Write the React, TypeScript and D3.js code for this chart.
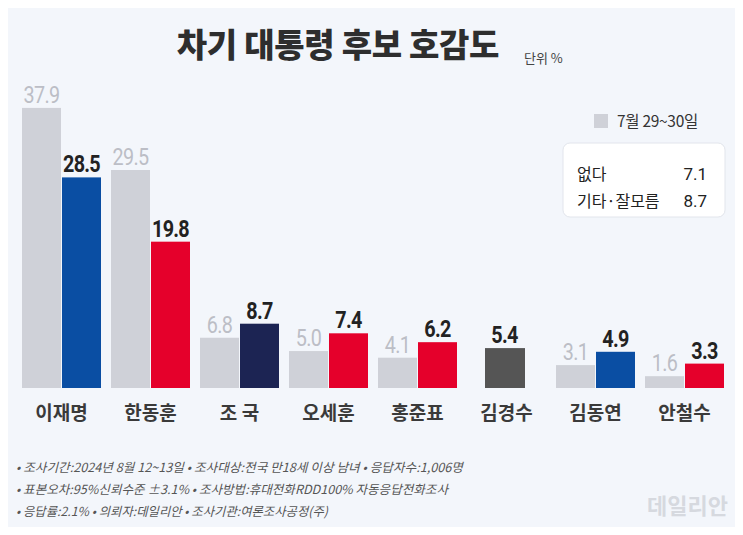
import { useEffect, useRef } from "react";
import * as d3 from "d3";

const candidates = ["이재명", "한동훈", "조 국", "오세훈", "홍준표", "김경수", "김동연", "안철수"];
const prevValues = [37.9, 29.5, 6.8, 5.0, 4.1, null, 3.1, 1.6];
const nowValues = [28.5, 19.8, 8.7, 7.4, 6.2, 5.4, 4.9, 3.3];
const nowColors = ["#0a4ea3", "#e5002b", "#1c2453", "#e5002b", "#e5002b", "#555555", "#0a4ea3", "#e5002b"];
const otherLabels = ["없다", "기타·잘모름"];
const otherValues = [7.1, 8.7];
const footnotes = [
  "• 조사기간:2024년 8월 12~13일  • 조사대상:전국 만18세 이상 남녀  • 응답자수:1,006명",
  "• 표본오차:95%신뢰수준 ±3.1%  • 조사방법:휴대전화RDD100% 자동응답전화조사",
  "• 응답률:2.1%  • 의뢰자:데일리안  • 조사기관:여론조사공정(주)",
];

const KR = "'Noto Sans CJK KR', 'Noto Sans', sans-serif";
const NUM = "Roboto, 'Noto Sans', sans-serif";

function App() {
  const ref = useRef<HTMLDivElement>(null);

  useEffect(() => {
    const container = d3.select(ref.current);
    container.selectAll("*").remove();

    const width = 743;
    const height = 535;
    const baseY = 388;

    const svg = container
      .append("svg")
      .attr("width", width)
      .attr("height", height)
      .style("display", "block");

    svg.append("rect").attr("width", width).attr("height", height).attr("fill", "#f3f6fb");

    const x0 = d3.scaleBand<string>().domain(candidates).range([22, 724]).paddingInner(10 / 89).paddingOuter(0);
    const x1 = d3.scaleBand<string>().domain(["prev", "now"]).range([0, x0.bandwidth()]).paddingInner(1 / 40);
    const y = d3.scaleLinear().domain([0, 40]).range([baseY, baseY - 40 * 7.39]);

    const data = candidates.map((c, i) => ({ c, prev: prevValues[i], now: nowValues[i], color: nowColors[i] }));

    // value label, squeezed horizontally to look like the condensed face
    const valueLabel = (cx: number, cy: number, txt: string, fill: string, weight: string) => {
      svg.append("text")
        .attr("transform", `translate(${cx},${cy}) scale(0.86,1)`)
        .attr("text-anchor", "middle")
        .attr("fill", fill)
        .style("font-family", NUM)
        .style("font-size", "23px")
        .style("font-weight", weight)
        .style("letter-spacing", "-0.8px")
        .text(txt);
    };

    data.forEach((d) => {
      const gx = x0(d.c)!;
      const bw = x1.bandwidth();
      if (d.prev != null) {
        const px = gx + x1("prev")!;
        svg.append("rect")
          .attr("x", px)
          .attr("y", y(d.prev))
          .attr("width", bw)
          .attr("height", y(0) - y(d.prev))
          .attr("fill", "#cfd1d8");
        valueLabel(px + bw / 2, y(d.prev) - 5, d.prev.toFixed(1), "#bcbec6", "400");
      }
      const nx = d.prev != null ? gx + x1("now")! : gx + x0.bandwidth() / 2 - bw / 2 - 2;
      svg.append("rect")
        .attr("x", nx)
        .attr("y", y(d.now))
        .attr("width", bw + (d.prev != null ? 0 : 1))
        .attr("height", y(0) - y(d.now))
        .attr("fill", d.color);
      valueLabel(nx + bw / 2, y(d.now) - 5, d.now.toFixed(1), "#222222", "700");

      svg.append("text")
        .attr("x", gx + x0.bandwidth() / 2)
        .attr("y", 420)
        .attr("text-anchor", "middle")
        .attr("fill", "#3a3a3a")
        .style("font-family", KR)
        .style("font-size", "19px")
        .style("font-weight", "700")
        .text(d.c);
    });

    // title
    svg.append("text")
      .attr("x", 338)
      .attr("y", 57)
      .attr("text-anchor", "middle")
      .attr("fill", "#2e2e2e")
      .style("font-family", KR)
      .style("font-size", "33px")
      .style("font-weight", "900")
      .style("letter-spacing", "-0.3px")
      .text("차기 대통령 후보 호감도");
    svg.append("text")
      .attr("x", 524)
      .attr("y", 63)
      .attr("fill", "#444")
      .style("font-family", KR)
      .style("font-size", "13px")
      .text("단위 %");

    // legend
    svg.append("rect").attr("x", 594).attr("y", 114).attr("width", 14).attr("height", 14).attr("fill", "#cfd1d8");
    svg.append("text")
      .attr("x", 617)
      .attr("y", 127)
      .attr("fill", "#333")
      .style("font-family", KR)
      .style("font-size", "15.5px")
      .style("letter-spacing", "-0.3px")
      .text("7월 29~30일");

    svg.append("rect")
      .attr("x", 563)
      .attr("y", 143)
      .attr("width", 162)
      .attr("height", 74)
      .attr("rx", 7)
      .attr("fill", "#ffffff")
      .attr("stroke", "#e2e5ec");
    otherLabels.forEach((lab, i) => {
      const ty = 180 + i * 27;
      svg.append("text")
        .attr("x", 577)
        .attr("y", ty)
        .attr("fill", "#222")
        .style("font-family", KR)
        .style("font-size", "16px")
        .text(lab);
      svg.append("text")
        .attr("x", 707)
        .attr("y", ty)
        .attr("text-anchor", "end")
        .attr("fill", "#222")
        .style("font-family", NUM)
        .style("font-size", "17px")
        .text(otherValues[i].toFixed(1));
    });

    // footnotes
    const fw = [447, 432, 312];
    footnotes.forEach((t, i) => {
      svg.append("text")
        .attr("x", 16)
        .attr("y", 472 + i * 22)
        .attr("fill", "#555")
        .attr("textLength", fw[i])
        .attr("lengthAdjust", "spacingAndGlyphs")
        .style("font-family", KR)
        .style("font-size", "12.5px")
        .style("font-style", "italic")
        .text(t);
    });

    svg.append("text")
      .attr("x", 728)
      .attr("y", 514)
      .attr("text-anchor", "end")
      .attr("fill", "#d6d9df")
      .style("font-family", KR)
      .style("font-size", "22px")
      .style("font-weight", "700")
      .text("데일리안");
  }, []);

  return <div ref={ref} style={{ margin: -8 }} />;
}

export default App;
